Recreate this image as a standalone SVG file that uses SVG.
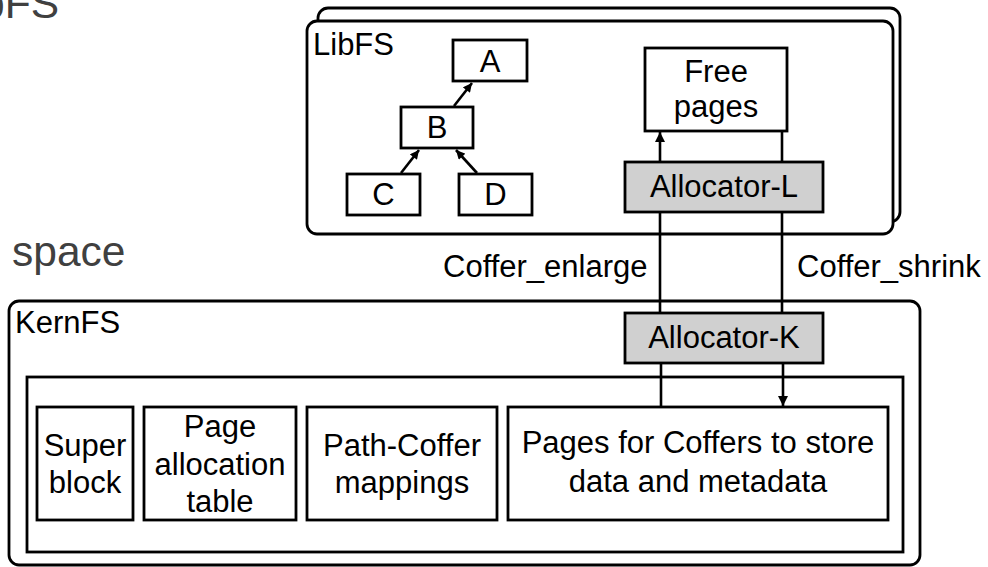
<svg xmlns="http://www.w3.org/2000/svg" width="988" height="567" viewBox="0 0 988 567">
<defs>
<style>
text{font-family:"Liberation Sans",Arial,Helvetica,sans-serif;fill:#000;}
.t{font-size:31px;}
.m{text-anchor:middle;}
.g{font-size:42.5px;fill:#404040;}
.box{fill:#fff;stroke:#000;stroke-width:2.8;}
.alloc{fill:#d0d0d0;stroke:#000;stroke-width:2.8;}
.c{fill:none;stroke:#000;stroke-width:2.6;}
</style>
<marker id="ah" viewBox="0 0 10 10" refX="10" refY="5" markerWidth="11" markerHeight="10" markerUnits="userSpaceOnUse" orient="auto">
<path d="M0,0 L10,5 L0,10 z" fill="#000"/>
</marker>
<marker id="ahs" viewBox="0 0 10 10" refX="10" refY="5" markerWidth="10" markerHeight="9" markerUnits="userSpaceOnUse" orient="auto">
<path d="M0,0 L10,5 L0,10 z" fill="#000"/>
</marker>
</defs>
<rect width="988" height="567" fill="#fff"/>

<text class="g" x="59" y="18" text-anchor="end">LibFS</text>
<text class="g" x="12" y="266">space</text>

<g id="libfs-back"><rect class="box" x="318" y="8" width="582" height="214" rx="10"/></g>
<g id="libfs">
<rect class="box" x="307" y="21" width="586" height="213" rx="10"/>
<text class="t" x="313" y="55">LibFS</text>
</g>
<g id="kernfs">
<rect class="box" x="9" y="301" width="911" height="264" rx="10"/>
<text class="t" x="15" y="333">KernFS</text>
</g>
<g id="kern-inner"><rect class="box" x="27" y="377" width="876" height="175"/></g>

<g id="nodeA"><rect class="box" x="453" y="40" width="74" height="41"/><text class="t m" x="490" y="72">A</text></g>
<g id="nodeB"><rect class="box" x="401" y="107" width="72" height="41"/><text class="t m" x="437" y="138">B</text></g>
<g id="nodeC"><rect class="box" x="347" y="174" width="73" height="41"/><text class="t m" x="383.5" y="205">C</text></g>
<g id="nodeD"><rect class="box" x="459" y="174" width="73" height="41"/><text class="t m" x="495.5" y="205">D</text></g>

<g id="free-pages"><rect class="box" x="645" y="48" width="142" height="83"/>
<text class="t m" x="716" y="82">Free</text><text class="t m" x="716" y="117">pages</text></g>
<g id="allocator-l"><rect class="alloc" x="625" y="162" width="198" height="50"/><text class="t m" x="724" y="197">Allocator-L</text></g>
<g id="allocator-k"><rect class="alloc" x="625" y="313" width="198" height="50"/><text class="t m" x="724" y="348">Allocator-K</text></g>

<g id="superblock"><rect class="box" x="37" y="407" width="96" height="113"/>
<text class="t m" x="85" y="456">Super</text><text class="t m" x="85" y="493">block</text></g>
<g id="pat"><rect class="box" x="144" y="407" width="152" height="113"/>
<text class="t m" x="220" y="437">Page</text><text class="t m" x="220" y="475">allocation</text><text class="t m" x="220" y="512">table</text></g>
<g id="pcm"><rect class="box" x="307" y="407" width="190" height="113"/>
<text class="t m" x="402" y="456">Path-Coffer</text><text class="t m" x="402" y="493">mappings</text></g>
<g id="pages"><rect class="box" x="508" y="407" width="380" height="113"/>
<text class="t m" x="698" y="453">Pages for Coffers to store</text><text class="t m" x="698" y="492">data and metadata</text></g>

<g id="connectors">
<line class="c" x1="454" y1="106" x2="472" y2="83" marker-end="url(#ahs)"/>
<line class="c" x1="401" y1="173" x2="419" y2="150" marker-end="url(#ahs)"/>
<line class="c" x1="477" y1="173" x2="456" y2="150" marker-end="url(#ahs)"/>
<line class="c" x1="660" y1="162" x2="660" y2="132" marker-end="url(#ah)"/>
<line class="c" x1="660" y1="212" x2="660" y2="313"/>
<line class="c" x1="661" y1="363" x2="661" y2="407"/>
<line class="c" x1="782" y1="131" x2="782" y2="162"/>
<line class="c" x1="782" y1="212" x2="782" y2="313"/>
<line class="c" x1="783" y1="363" x2="783" y2="406" marker-end="url(#ah)"/>
<text class="t" x="443" y="277">Coffer_enlarge</text>
<text class="t" x="797" y="277">Coffer_shrink</text>
</g>
</svg>
